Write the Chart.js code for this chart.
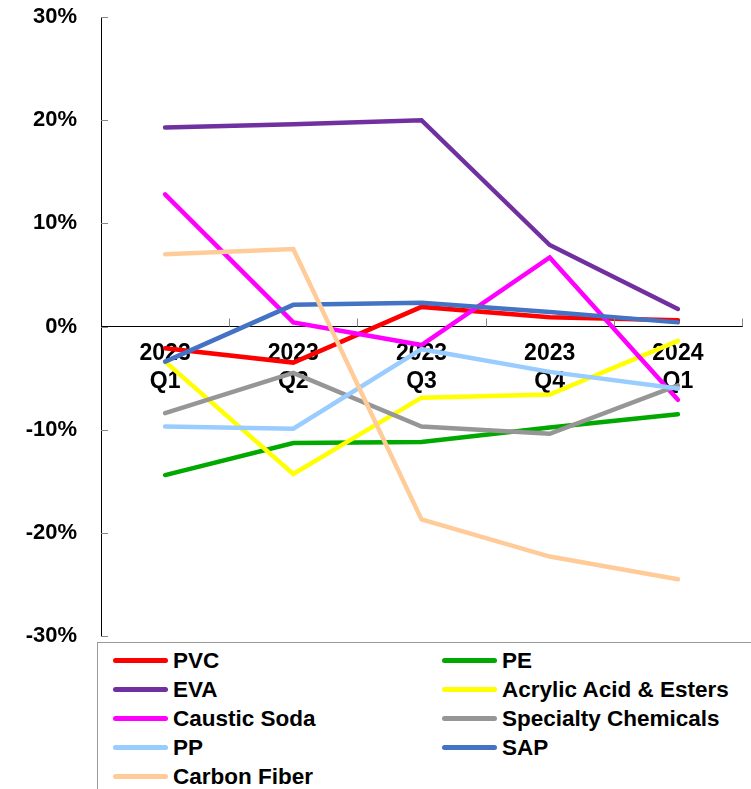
<!DOCTYPE html>
<html>
<head>
<meta charset="utf-8">
<script src="https://cdn.jsdelivr.net/npm/chart.js@4/dist/chart.umd.min.js"></script>
<style>
    html, body { margin: 0; padding: 0; background: #fff; }
    #wrap { position: relative; width: 751px; height: 789px; overflow: hidden; }
    #chartBox { position: absolute; left: 0; top: 0; width: 751px; height: 789px; }
    #legend {
        position: absolute; left: 97px; top: 642px; width: 700px; height: 200px;
        border: 1px solid #999; box-sizing: border-box; background: #fff;
        font-family: Arial, "Liberation Sans", sans-serif; font-weight: bold; font-size: 22.5px;
    }
    .item { position: absolute; display: flex; align-items: center; height: 29px; white-space: nowrap; }
    .swatch { width: 55px; height: 5px; border-radius: 3px; margin-right: 5px; }
</style>
</head>
<body>
<div id="wrap">
    <div id="chartBox"><canvas id="lineChart"></canvas></div>
    <div id="legend"></div>
</div>
<script>
const quarters = [['2023', 'Q1'], ['2023', 'Q2'], ['2023', 'Q3'], ['2023', 'Q4'], ['2024', 'Q1']];

const seriesNames = ['PVC', 'PE', 'EVA', 'Acrylic Acid & Esters', 'Caustic Soda',
    'Specialty Chemicals', 'PP', 'SAP', 'Carbon Fiber'];
const seriesColors = ['#ff0000', '#00a800', '#7030a0', '#ffff00', '#ff00ff',
    '#969696', '#99ccff', '#4472c4', '#ffcc99'];

const pvc = [-2.1, -3.5, 1.9, 0.9, 0.6];
const pe = [-14.4, -11.3, -11.2, -9.8, -8.5];
const eva = [19.3, 19.6, 20.0, 7.9, 1.7];
const acrylic = [-3.4, -14.3, -6.9, -6.6, -1.4];
const causticSoda = [12.8, 0.4, -1.8, 6.7, -7.1];
const specialty = [-8.4, -4.5, -9.7, -10.4, -5.7];
const pp = [-9.7, -9.9, -2.2, -4.4, -6.0];
const sap = [-3.4, 2.1, 2.3, 1.4, 0.4];
const carbonFiber = [7.0, 7.5, -18.7, -22.3, -24.5];

const yTicks = [-30, -20, -10, 0, 10, 20, 30];

const seriesValues = [pvc, pe, eva, acrylic, causticSoda, specialty, pp, sap, carbonFiber];

const FONT = 'Arial, "Liberation Sans", sans-serif';

// small tick marks pointing into the plot, like the original
const innerTicks = {
    id: 'innerTicks',
    afterDraw(chart) {
        const ctx = chart.ctx;
        const x = chart.scales.x;
        const y = chart.scales.y;
        const zero = y.getPixelForValue(0);
        ctx.save();
        ctx.strokeStyle = '#888';
        ctx.lineWidth = 1;
        ctx.beginPath();
        yTicks.forEach(v => {
            const py = Math.round(y.getPixelForValue(v)) + 0.5;
            ctx.moveTo(y.right, py);
            ctx.lineTo(y.right + 7, py);
        });
        for (let i = 1; i <= quarters.length; i++) {
            const px = Math.round(x.left + (x.right - x.left) * i / quarters.length) + 0.5;
            ctx.moveTo(px, zero);
            ctx.lineTo(px, zero - 8);
        }
        ctx.stroke();
        ctx.restore();
    }
};

const datasets = seriesNames.map((name, i) => ({
    label: name,
    data: seriesValues[i],
    borderColor: seriesColors[i],
    backgroundColor: seriesColors[i],
    borderWidth: 4.5,
    pointRadius: 0,
    tension: 0,
    borderCapStyle: 'round',
    order: seriesNames.length - i
}));

const chart = new Chart(document.getElementById('lineChart'), {
    type: 'line',
    data: { labels: quarters, datasets: datasets },
    plugins: [innerTicks],
    options: {
        responsive: true,
        maintainAspectRatio: false,
        animation: false,
        layout: { padding: { top: 17, right: 9, bottom: 153, left: 0 } },
        plugins: {
            legend: { display: false },
            tooltip: { enabled: false }
        },
        scales: {
            x: {
                position: { y: 0 },
                offset: true,
                afterFit(scale) { scale.height = 0; },
                grid: { display: false, drawTicks: false },
                border: { color: '#000', width: 1 },
                ticks: {
                    color: '#000',
                    padding: 14,
                    maxRotation: 0,
                    font: { family: FONT, size: 23, weight: 'bold', lineHeight: 1.18 }
                }
            },
            y: {
                min: -30,
                max: 30,
                afterFit(scale) {
                    scale.width = 101;
                    scale.paddingTop = 0;
                    scale.paddingBottom = 0;
                },
                grid: { display: false, drawTicks: false },
                border: { color: '#000', width: 1 },
                ticks: {
                    stepSize: 10,
                    color: '#000',
                    padding: 24,
                    font: { family: FONT, size: 22, weight: 'bold' },
                    callback: v => v + '%'
                }
            }
        }
    }
});

// legend in two columns, filled row by row
const legend = document.getElementById('legend');
chart.data.datasets.forEach((ds, i) => {
    const el = document.createElement('div');
    el.className = 'item';
    el.style.left = (i % 2 === 0 ? 15 : 344) + 'px';
    el.style.top = (3 + Math.floor(i / 2) * 29) + 'px';
    el.innerHTML = '<span class="swatch" style="background:' + ds.borderColor + '"></span>' + ds.label;
    legend.appendChild(el);
});
</script>
</body>
</html>
